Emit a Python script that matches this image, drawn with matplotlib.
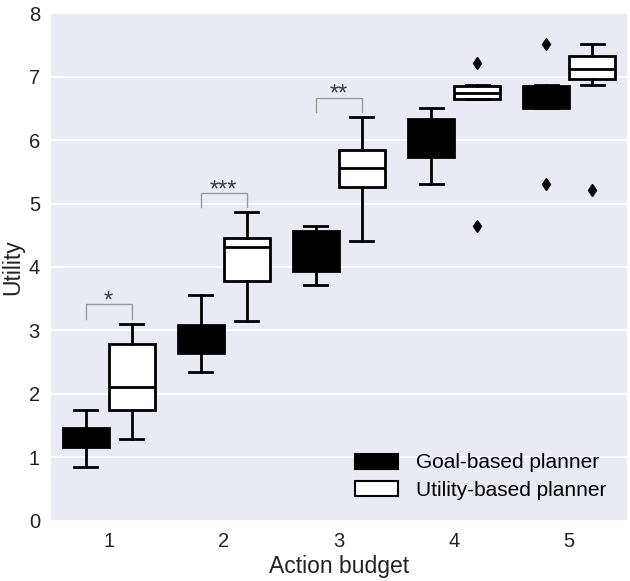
import numpy as np
import matplotlib
matplotlib.use("Agg")
from matplotlib import pyplot as plt
from matplotlib.patches import Patch

plt.rcParams['font.family'] = ['Liberation Sans', 'DejaVu Sans']

budgets = [1, 2, 3, 4, 5]

# box stats: whislo, q1, med, q3, whishi, fliers
goal_whislo = [0.84, 2.35, 3.71, 5.31, 6.50]
goal_q1 = [1.16, 2.64, 3.94, 5.73, 6.50]
goal_med = [1.30, 2.85, 4.30, 6.00, 6.80]
goal_q3 = [1.46, 3.09, 4.57, 6.33, 6.86]
goal_whishi = [1.75, 3.56, 4.65, 6.51, 6.87]
goal_fliers = [[], [], [], [], [7.52, 5.31]]

util_whislo = [1.29, 3.15, 4.41, 6.65, 6.87]
util_q1 = [1.75, 3.78, 5.26, 6.65, 6.96]
util_med = [2.10, 4.31, 5.56, 6.75, 7.12]
util_q3 = [2.78, 4.45, 5.84, 6.86, 7.32]
util_whishi = [3.10, 4.86, 6.36, 6.87, 7.52]
util_fliers = [[], [], [], [7.21, 4.65], [5.21]]

# significance brackets: budget, label
sig_budget = [1, 2, 3]
sig_label = ['*', '***', '**']


def make_stats(lo, q1, med, q3, hi, fl):
    out = []
    for i in range(len(lo)):
        out.append(dict(whislo=lo[i], q1=q1[i], med=med[i], q3=q3[i],
                        whishi=hi[i], fliers=fl[i]))
    return out


fig = plt.figure(figsize=(6.3, 5.81), dpi=100)
ax = fig.add_axes([0.081, 0.104, 0.914, 0.873])
ax.set_facecolor('#EAEAF2')
for s in ax.spines.values():
    s.set_visible(False)
ax.yaxis.grid(True, color='white', linewidth=1.2)
ax.set_axisbelow(True)

pos = np.array(budgets, dtype=float)
common = dict(widths=0.4, patch_artist=True, manage_ticks=False,
              whiskerprops=dict(color='black', linewidth=2),
              capprops=dict(color='black', linewidth=2),
              flierprops=dict(marker='d', markerfacecolor='black',
                              markeredgecolor='black', markersize=6),
              medianprops=dict(color='black', linewidth=2))
for stats, off, fc in [
        (make_stats(goal_whislo, goal_q1, goal_med, goal_q3, goal_whishi, goal_fliers), -0.2, 'black'),
        (make_stats(util_whislo, util_q1, util_med, util_q3, util_whishi, util_fliers), 0.2, 'white')]:
    ax.bxp(stats, positions=pos + off,
           boxprops=dict(facecolor=fc, edgecolor='black', linewidth=2),
           **common)

for b, lab in zip(sig_budget, sig_label):
    i = budgets.index(b)
    top = util_whishi[i] + 0.31
    x0, x1 = b - 0.2, b + 0.2
    ax.plot([x0, x0, x1, x1], [top - 0.23, top, top, top - 0.23],
            color='#999999', linewidth=1)
    ax.text(b, top - 0.13, lab, ha='center', va='bottom', fontsize=17,
            color='#3a3a3a')

ax.set_xlim(0.5, 5.5)
ax.set_ylim(0, 8)
ax.set_xticks(budgets)
ax.set_xticklabels([str(b) for b in budgets])
ax.tick_params(length=0, labelsize=14.5, colors='#222222', pad=8)
ax.set_xlabel('Action budget', fontsize=16.5, color='#222222', labelpad=3)
ax.set_ylabel('Utility', fontsize=16.5, color='#222222')
ax.yaxis.set_label_coords(-0.047, 0.5)

handles = [Patch(facecolor='black', edgecolor='black', linewidth=1.5),
           Patch(facecolor='white', edgecolor='black', linewidth=1.5)]
ax.legend(handles, ['Goal-based planner', 'Utility-based planner'],
          loc='lower right', frameon=False, fontsize=15, handlelength=2.05,
          handleheight=0.72, handletextpad=0.85, labelspacing=0.4,
          borderaxespad=0.6)

fig.savefig('out.png', dpi=100)
